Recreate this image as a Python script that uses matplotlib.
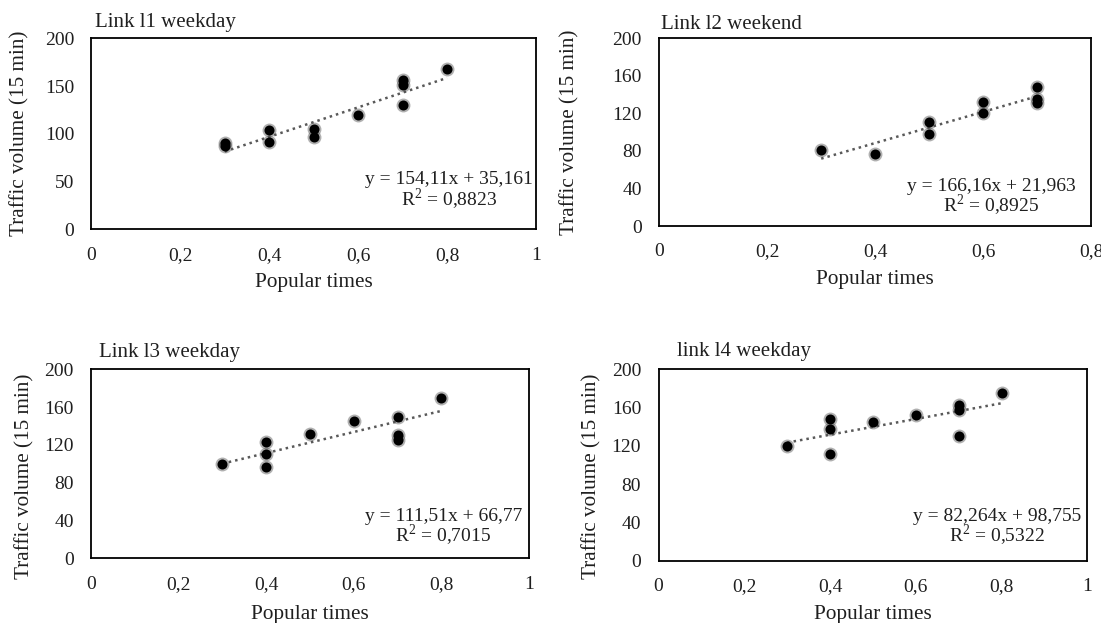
import matplotlib
matplotlib.use('Agg')
import matplotlib.pyplot as plt
import numpy as np

plt.rcParams['font.family'] = ['Liberation Serif', 'DejaVu Serif']
plt.rcParams['mathtext.fontset'] = 'custom'
plt.rcParams['mathtext.rm'] = 'Liberation Serif'

# link l1 weekday
l1_x = [0.3, 0.3, 0.4, 0.4, 0.5, 0.5, 0.6, 0.7, 0.7, 0.7, 0.8]
l1_y = [90, 87, 104, 91, 105, 97, 120, 156, 151, 130, 168]
l1_fit = (154.11, 35.161)

# link l2 weekend
l2_x = [0.3, 0.4, 0.5, 0.5, 0.6, 0.6, 0.7, 0.7, 0.7]
l2_y = [81, 77, 111, 98, 132, 120, 148, 135, 131]
l2_fit = (166.16, 21.963)

# link l3 weekday
l3_x = [0.3, 0.4, 0.4, 0.4, 0.5, 0.6, 0.7, 0.7, 0.7, 0.8]
l3_y = [100, 123, 110, 97, 132, 145, 150, 130, 125, 170]
l3_fit = (111.51, 66.77)

# link l4 weekday
l4_x = [0.3, 0.4, 0.4, 0.4, 0.5, 0.6, 0.7, 0.7, 0.7, 0.8]
l4_y = [120, 148, 138, 112, 145, 152, 163, 158, 130, 175]
l4_fit = (82.264, 98.755)

titles = ['Link l1 weekday', 'Link l2 weekend', 'Link l3 weekday', 'link l4 weekday']
eq_lines = [('y = 154,11x + 35,161', 'R$^2$ = 0,8823'),
            ('y = 166,16x + 21,963', 'R$^2$ = 0,8925'),
            ('y = 111,51x + 66,77', 'R$^2$ = 0,7015'),
            ('y = 82,264x + 98,755', 'R$^2$ = 0,5322')]

TXT = '#1f1f1f'


def comma(v, pos=None):
    if v == int(v):
        return str(int(v))
    return f"{v:g}".replace('.', ',')


def draw_panel(rect, xs, ys, fit, title, eqs, xmax, ystep, title_pos, eq_pos, ylab_pos, xlab_y):
    ax = fig.add_axes(rect)
    slope, icpt = fit
    xs = np.array(xs)
    xl = np.array([xs.min(), xs.max()])
    ax.plot(xl, slope * xl + icpt, linestyle=(0, (1, 1.6)), color='#595959',
            linewidth=1.8, zorder=2)
    # soft grey glow under each black marker
    ax.scatter(xs, ys, s=100, color='#505050', alpha=0.45, linewidths=0, zorder=3)
    ax.scatter(xs, ys, s=52, color='black', linewidths=0, zorder=4)

    ax.set_xlim(0, xmax)
    ax.set_ylim(0, 200)
    ax.set_xticks(np.arange(0, xmax + 0.01, 0.2))
    ax.set_yticks(np.arange(0, 201, ystep))
    ax.xaxis.set_major_formatter(plt.FuncFormatter(comma))
    ax.tick_params(length=0, labelsize=14, pad=12.5, colors=TXT)
    for sp in ax.spines.values():
        sp.set_linewidth(1.3)
        sp.set_color('black')

    ax.set_xlabel('Popular times', fontsize=15.3, color=TXT)
    ax.xaxis.set_label_coords(0.5, xlab_y)
    ax.xaxis.label.set_va('top')
    ax.set_ylabel('Traffic volume (15 min)', fontsize=15.2, color=TXT)
    ax.yaxis.set_label_coords(*ylab_pos)
    ax.yaxis.label.set_va('center')

    ax.text(title_pos[0], title_pos[1], title, transform=ax.transAxes,
            ha='left', va='baseline', fontsize=15, color=TXT)
    ax.text(eq_pos[0], eq_pos[1], eqs[0], transform=ax.transAxes,
            ha='center', va='baseline', fontsize=14, color=TXT)
    ax.text(eq_pos[0], eq_pos[2], eqs[1], transform=ax.transAxes,
            ha='center', va='baseline', fontsize=14, color=TXT)
    return ax


fig = plt.figure(figsize=(11.01, 6.23), dpi=100)

draw_panel([0.0831, 0.632, 0.4036, 0.3066], l1_x, l1_y, l1_fit, titles[0], eq_lines[0],
           1.0, 50, (0.008, 1.058), (0.805, 0.235, 0.122), (-0.161, 0.5), -0.229)
draw_panel([0.5987, 0.6372, 0.3924, 0.3013], l2_x, l2_y, l2_fit, titles[1], eq_lines[1],
           0.8, 40, (0.004, 1.048), (0.769, 0.186, 0.072), (-0.206, 0.5), -0.234)
draw_panel([0.0828, 0.1038, 0.3975, 0.3034], l3_x, l3_y, l3_fit, titles[2], eq_lines[2],
           1.0, 40, (0.017, 1.063), (0.805, 0.195, 0.083), (-0.152, 0.434), -0.245)
draw_panel([0.5981, 0.1000, 0.3896, 0.3072], l4_x, l4_y, l4_fit, titles[3], eq_lines[3],
           1.0, 40, (0.043, 1.068), (0.790, 0.208, 0.097), (-0.156, 0.443), -0.231)

fig.savefig('out.png', dpi=100, facecolor='white')
